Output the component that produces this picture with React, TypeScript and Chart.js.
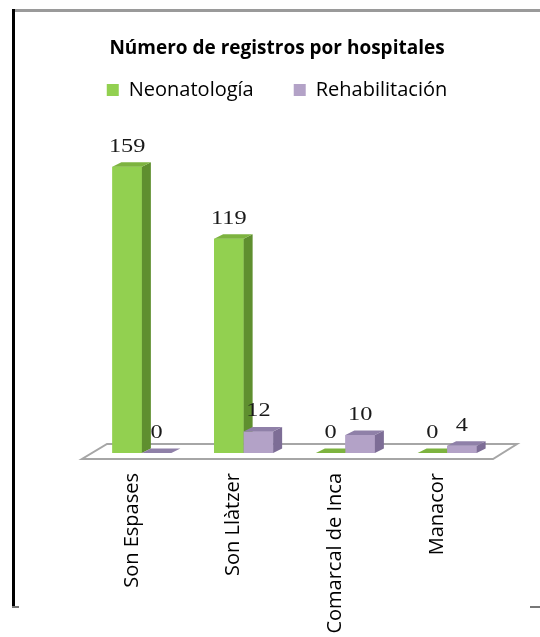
import React, { useEffect, useRef } from 'react';
import { Chart, registerables } from 'chart.js';
Chart.register(...registerables);

const categories = ['Son Espases', 'Son Llàtzer', 'Comarcal de Inca', 'Manacor'];
const neonatologia = [159, 119, 0, 0];
const rehabilitacion = [0, 12, 10, 4];
const seriesNames = ['Neonatología', 'Rehabilitación'];
const titleText = 'Número de registros por hospitales';
const yMax = 190.6;

const DX = 9;
const DY = 4.5;
const FONT = 'Open Sans';

const depthPlugin = {
  id: 'depth3d',
  beforeDatasetsDraw(chart: any) {
    const { ctx, chartArea: a } = chart;
    ctx.save();
    ctx.beginPath();
    ctx.moveTo(a.left - 9, a.bottom + 6);
    ctx.lineTo(a.right - 5, a.bottom + 6);
    ctx.lineTo(a.right + 19, a.bottom - 9);
    ctx.lineTo(a.left + 16, a.bottom - 9);
    ctx.closePath();
    ctx.fillStyle = '#ffffff';
    ctx.fill();
    ctx.strokeStyle = '#A6A6A6';
    ctx.lineWidth = 2;
    ctx.stroke();
    ctx.restore();
  },
  afterDatasetsDraw(chart: any) {
    const { ctx } = chart;
    ctx.save();
    chart.data.datasets.forEach((ds: any, i: number) => {
      const meta = chart.getDatasetMeta(i);
      meta.data.forEach((el: any) => {
        el.draw(ctx);
        const { x, y, base, width } = el.getProps(['x', 'y', 'base', 'width'], true);
        const l = x - width / 2;
        const r = x + width / 2;
        ctx.fillStyle = ds.sideColor;
        ctx.beginPath();
        ctx.moveTo(r, y);
        ctx.lineTo(r + DX, y - DY);
        ctx.lineTo(r + DX, base - DY);
        ctx.lineTo(r, base);
        ctx.closePath();
        ctx.fill();
        ctx.fillStyle = ds.topColor;
        ctx.beginPath();
        ctx.moveTo(l, y);
        ctx.lineTo(l + DX, y - DY);
        ctx.lineTo(r + DX, y - DY);
        ctx.lineTo(r, y);
        ctx.closePath();
        ctx.fill();
      });
    });
    ctx.font = '19px "Liberation Serif"';
    ctx.fillStyle = '#1a1a1a';
    ctx.textAlign = 'center';
    ctx.textBaseline = 'middle';
    chart.data.datasets.forEach((ds: any, i: number) => {
      const meta = chart.getDatasetMeta(i);
      meta.data.forEach((el: any, j: number) => {
        const { x, y } = el.getProps(['x', 'y'], true);
        ctx.save();
        ctx.translate(x, y - 20);
        ctx.scale(1.28, 1);
        ctx.fillText(String(ds.data[j]), 0, 0);
        ctx.restore();
      });
    });
    ctx.restore();
  },
  afterDraw(chart: any) {
    const { ctx } = chart;
    ctx.save();
    ctx.fillStyle = '#9a9a9a';
    ctx.fillRect(13, 9, 527, 3);
    ctx.fillStyle = '#000';
    ctx.fillRect(12, 9, 3, 599);
    ctx.fillStyle = '#777';
    ctx.fillRect(12, 606, 7, 2);
    ctx.fillRect(530, 606, 10, 2);
    ctx.restore();
  },
};

export default function App() {
  const ref = useRef<HTMLCanvasElement>(null);
  useEffect(() => {
    const chart = new Chart(ref.current!, {
      type: 'bar',
      data: {
        labels: categories,
        datasets: [
          {
            label: seriesNames[0],
            data: neonatologia,
            backgroundColor: '#92D050',
            sideColor: '#5F8F2F',
            topColor: '#7DB33F',
          } as any,
          {
            label: seriesNames[1],
            data: rehabilitacion,
            backgroundColor: '#B3A2C7',
            sideColor: '#7D6D96',
            topColor: '#8F80A8',
          } as any,
        ],
      },
      options: {
        responsive: false,
        animation: false,
        layout: { padding: { left: 14, right: 0, top: 0, bottom: 0 } },
        datasets: { bar: { categoryPercentage: 0.58, barPercentage: 1 } },
        scales: {
          x: {
            grid: { display: false },
            border: { display: false },
            afterFit: (scale: any) => {
              scale.height = 184;
            },
            ticks: {
              font: { family: FONT, size: 20 },
              color: '#000',
              maxRotation: 90,
              minRotation: 90,
              padding: 12,
              labelOffset: -10,
              autoSkip: false,
            },
          },
          y: {
            min: 0,
            max: yMax,
            grid: { display: false },
            border: { display: false },
            ticks: { display: false },
            afterFit: (scale: any) => {
              scale.width = 77;
            },
          },
          yRight: {
            type: 'linear',
            position: 'right',
            grid: { display: false },
            border: { display: false },
            ticks: { display: false },
            afterFit: (scale: any) => {
              scale.width = 42;
            },
          },
        },
        plugins: {
          title: {
            display: true,
            text: titleText,
            font: { family: FONT, size: 19, weight: 'bold' },
            color: '#000',
            padding: { top: 37.6, bottom: -20.4 },
          },
          legend: {
            labels: {
              font: { family: FONT, size: 20 },
              color: '#000',
              boxWidth: 12,
              boxHeight: 12,
              padding: 40,
              sort: (a: any, b: any) => a.datasetIndex - b.datasetIndex,
            },
          },
          tooltip: { enabled: false },
        },
      },
      plugins: [depthPlugin],
    });
    return () => chart.destroy();
  }, []);
  return (
    <div style={{ position: 'absolute', left: 0, top: 0, width: 540, height: 637 }}>
      <canvas ref={ref} width={540} height={637} />
    </div>
  );
}
